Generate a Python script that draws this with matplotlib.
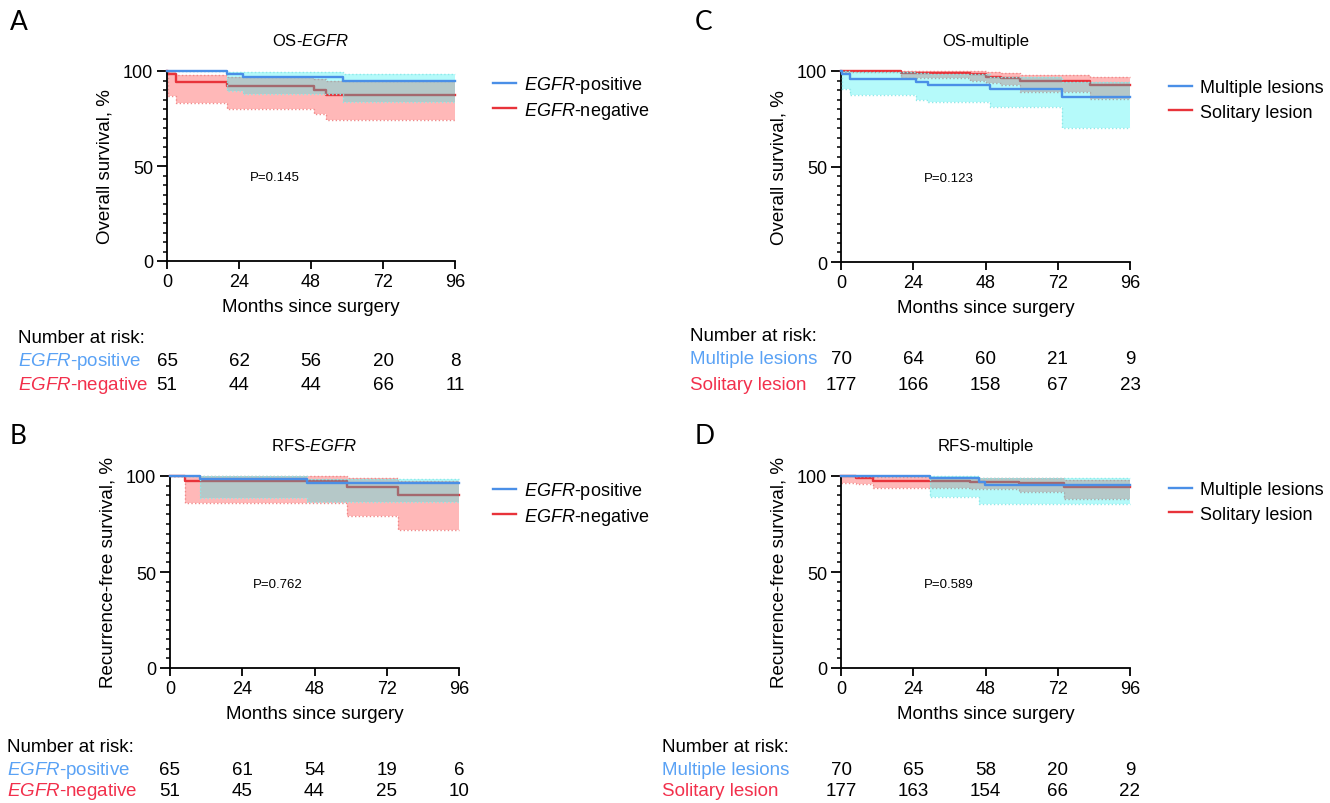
import matplotlib
matplotlib.use('Agg')
import matplotlib.pyplot as plt
from matplotlib.lines import Line2D
from matplotlib.ticker import MultipleLocator
from matplotlib.transforms import blended_transform_factory

plt.rcParams['font.family'] = ['Liberation Sans', 'DejaVu Sans']
plt.rcParams['mathtext.fontset'] = 'custom'
plt.rcParams['mathtext.it'] = 'Liberation Sans:italic'
plt.rcParams['mathtext.rm'] = 'Liberation Sans'

W, H = 1330, 804

# ---- data (survival %, step changes at given months) ----
# A: OS-EGFR
a_pos_t = [0, 20, 25.3, 58.7, 96]
a_pos_s = [100, 98.5, 97, 94.6, 94.6]
a_pos_lo = [100, 89.3, 87.9, 83.5, 83.5]
a_pos_hi = [100, 99.3, 99.3, 98.4, 98.4]
a_neg_t = [0, 0.3, 3, 20, 49, 53, 96]
a_neg_s = [100, 98.4, 94, 92.3, 90, 87.4, 87.4]
a_neg_lo = [100, 87, 83, 80, 77.4, 74.3, 74.3]
a_neg_hi = [100, 99.9, 98, 97, 96, 95, 95]

# C: OS-multiple
c_mul_t = [0, 0.3, 3, 25, 29, 49.5, 73.5, 96]
c_mul_s = [100, 98.5, 96, 94.4, 92.6, 90.4, 86.2, 86.2]
c_mul_lo = [100, 90.4, 87.4, 85, 83.6, 81.3, 70.3, 70.3]
c_mul_hi = [100, 100, 99.5, 99, 98.5, 97, 94.5, 94.5]
c_sol_t = [0, 20, 43, 48, 53, 59.5, 82.7, 96]
c_sol_s = [100, 99.1, 98.3, 97, 96.5, 95, 92.7, 92.7]
c_sol_lo = [99.5, 96.5, 95, 93.5, 92.5, 89, 85.5, 85.5]
c_sol_hi = [100, 100, 99.8, 99.3, 98.8, 98, 97, 97]

# B: RFS-EGFR
b_pos_t = [0, 10, 45.5, 96]
b_pos_s = [100, 98.3, 96.2, 96.2]
b_pos_lo = [100, 88.8, 86.7, 86.7]
b_pos_hi = [100, 100, 98.6, 98.6]
b_neg_t = [0, 5, 58.8, 75.8, 96]
b_neg_s = [100, 97.6, 94.5, 90.3, 90.3]
b_neg_lo = [100, 86, 79.2, 72, 72]
b_neg_hi = [100, 99.8, 98.8, 97.4, 97.4]

# D: RFS-multiple
d_mul_t = [0, 29.4, 46, 47.7, 96]
d_mul_s = [100, 99, 96.9, 95.1, 95.1]
d_mul_lo = [100, 89, 85.2, 85.2, 85.2]
d_mul_hi = [100, 100, 98.8, 98.8, 98.8]
d_sol_t = [0, 5, 10.5, 43, 59, 74, 96]
d_sol_s = [100, 99.1, 97.6, 96.7, 96.2, 94.3, 94.3]
d_sol_lo = [96.5, 95.7, 93.9, 93, 91.7, 87.8, 87.8]
d_sol_hi = [100, 100, 99.5, 99.2, 98.8, 98, 98]

risk_months = [0, 24, 48, 72, 96]
a_risk_pos = [65, 62, 56, 20, 8]
a_risk_neg = [51, 44, 44, 66, 11]
c_risk_mul = [70, 64, 60, 21, 9]
c_risk_sol = [177, 166, 158, 67, 23]
b_risk_pos = [65, 61, 54, 19, 6]
b_risk_neg = [51, 45, 44, 25, 10]
d_risk_mul = [70, 65, 58, 20, 9]
d_risk_sol = [177, 163, 154, 66, 22]

BLUE = '#4a8fe7'
RED = '#e8333a'
BLUE_TXT = '#5aa2f5'
RED_TXT = '#f2304c'


def fx(x):
    return x / W


def fy(y):
    return 1 - y / H


fig = plt.figure(figsize=(13.3, 8.04), dpi=100)


def panel(box, letter, letter_xy, title, ylabel, blue, red, labels, pval,
          leg_xy, leg_space, risk_xy, risk_blue, risk_red):
    x0, y0, x1, y1 = box
    ax = fig.add_axes([fx(x0), fy(y1), (x1 - x0) / W, (y1 - y0) / H])
    bt, bs, blo, bhi = blue
    rt, rs, rlo, rhi = red

    # red group: CI under everything
    ax.fill_between(rt, rlo, rhi, step='post', color='#ffb8b8', lw=0, zorder=1, clip_on=False)
    ax.step(rt, rlo, where='post', color='#f08a8a', lw=1, ls=':', zorder=1.5, clip_on=False)
    ax.step(rt, rhi, where='post', color='#f08a8a', lw=1, ls=':', zorder=1.5, clip_on=False)
    ax.step(rt, rs, where='post', color=RED, lw=1.7, zorder=2, clip_on=False)
    # blue group: translucent cyan CI on top
    ax.fill_between(bt, blo, bhi, step='post', color=(0, 0.94, 0.94), alpha=0.29, lw=0,
                    zorder=3, clip_on=False)
    ax.step(bt, blo, where='post', color='#8fe8e8', lw=1, ls=':', zorder=3.5, clip_on=False)
    ax.step(bt, bhi, where='post', color='#8fe8e8', lw=1, ls=':', zorder=3.5, clip_on=False)
    ax.step(bt, bs, where='post', color=BLUE, lw=1.7, zorder=4, clip_on=False)

    ax.set_xlim(0, 96)
    ax.set_ylim(0, 100)
    ax.set_xticks(risk_months)
    ax.set_yticks([0, 50, 100])
    ax.yaxis.set_minor_locator(MultipleLocator(5))
    for s in ['top', 'right']:
        ax.spines[s].set_visible(False)
    for s in ['left', 'bottom']:
        ax.spines[s].set_linewidth(1.3)
    ax.tick_params(axis='x', length=5.5, width=1.3, labelsize=13, pad=3)
    ax.tick_params(axis='y', which='major', length=7, width=1.3, labelsize=13, pad=3)
    ax.tick_params(axis='y', which='minor', length=3, width=1.1)

    ax.set_xlabel('Months since surgery', fontsize=13.5, labelpad=6)
    ax.set_ylabel(ylabel, fontsize=13.5, labelpad=7)
    ax.set_title(title, fontsize=12, pad=19)
    ax.text(27.5, 44, pval, fontsize=9.5, va='center', ha='left')

    fig.text(fx(letter_xy[0]), fy(letter_xy[1]), letter, fontsize=19, family='Lato',
             ha='left', va='center')

    handles = [Line2D([], [], color=BLUE, lw=1.7), Line2D([], [], color=RED, lw=1.7)]
    ax.legend(handles, labels, loc='upper left', bbox_to_anchor=(fx(leg_xy[0]), fy(leg_xy[1])),
              bbox_transform=fig.transFigure, frameon=False, fontsize=13,
              borderpad=0, borderaxespad=0, handlelength=1.3, handletextpad=0.4,
              labelspacing=leg_space)

    # number at risk table
    lx, hy, r1, r2 = risk_xy
    fig.text(fx(lx), fy(hy), 'Number at risk:', fontsize=13.5, va='center', ha='left')
    fig.text(fx(lx), fy(r1), labels[0], fontsize=13.5, va='center', ha='left', color=BLUE_TXT)
    fig.text(fx(lx), fy(r2), labels[1], fontsize=13.5, va='center', ha='left', color=RED_TXT)
    tr = blended_transform_factory(ax.transData, fig.transFigure)
    for m, nb, nr in zip(risk_months, risk_blue, risk_red):
        ax.text(m, fy(r1), str(nb), transform=tr, fontsize=13.5, ha='center', va='center',
                clip_on=False)
        ax.text(m, fy(r2), str(nr), transform=tr, fontsize=13.5, ha='center', va='center',
                clip_on=False)
    return ax


egfr_labels = [r'$\it{EGFR}$-positive', r'$\it{EGFR}$-negative']
mult_labels = ['Multiple lesions', 'Solitary lesion']

panel((167, 72, 455, 262), 'A', (10, 22), r'OS-$\it{EGFR}$', 'Overall survival, %',
      (a_pos_t, a_pos_s, a_pos_lo, a_pos_hi), (a_neg_t, a_neg_s, a_neg_lo, a_neg_hi),
      egfr_labels, 'P=0.145', (493, 75), 0.25, (18, 339, 362, 385), a_risk_pos, a_risk_neg)

panel((841, 72, 1130, 263), 'C', (695, 22), 'OS-multiple', 'Overall survival, %',
      (c_mul_t, c_mul_s, c_mul_lo, c_mul_hi), (c_sol_t, c_sol_s, c_sol_lo, c_sol_hi),
      mult_labels, 'P=0.123', (1169, 80), 0.42, (690, 337, 360, 385), c_risk_mul, c_risk_sol)

panel((170, 477, 459, 669), 'B', (10, 437), r'RFS-$\it{EGFR}$', 'Recurrence-free survival, %',
      (b_pos_t, b_pos_s, b_pos_lo, b_pos_hi), (b_neg_t, b_neg_s, b_neg_lo, b_neg_hi),
      egfr_labels, 'P=0.762', (493, 481), 0.25, (7, 748, 771, 792), b_risk_pos, b_risk_neg)

panel((841, 477, 1130, 669), 'D', (695, 437), 'RFS-multiple', 'Recurrence-free survival, %',
      (d_mul_t, d_mul_s, d_mul_lo, d_mul_hi), (d_sol_t, d_sol_s, d_sol_lo, d_sol_hi),
      mult_labels, 'P=0.589', (1169, 482), 0.42, (662, 748, 771, 792), d_risk_mul, d_risk_sol)

fig.savefig('out.png', dpi=100)
